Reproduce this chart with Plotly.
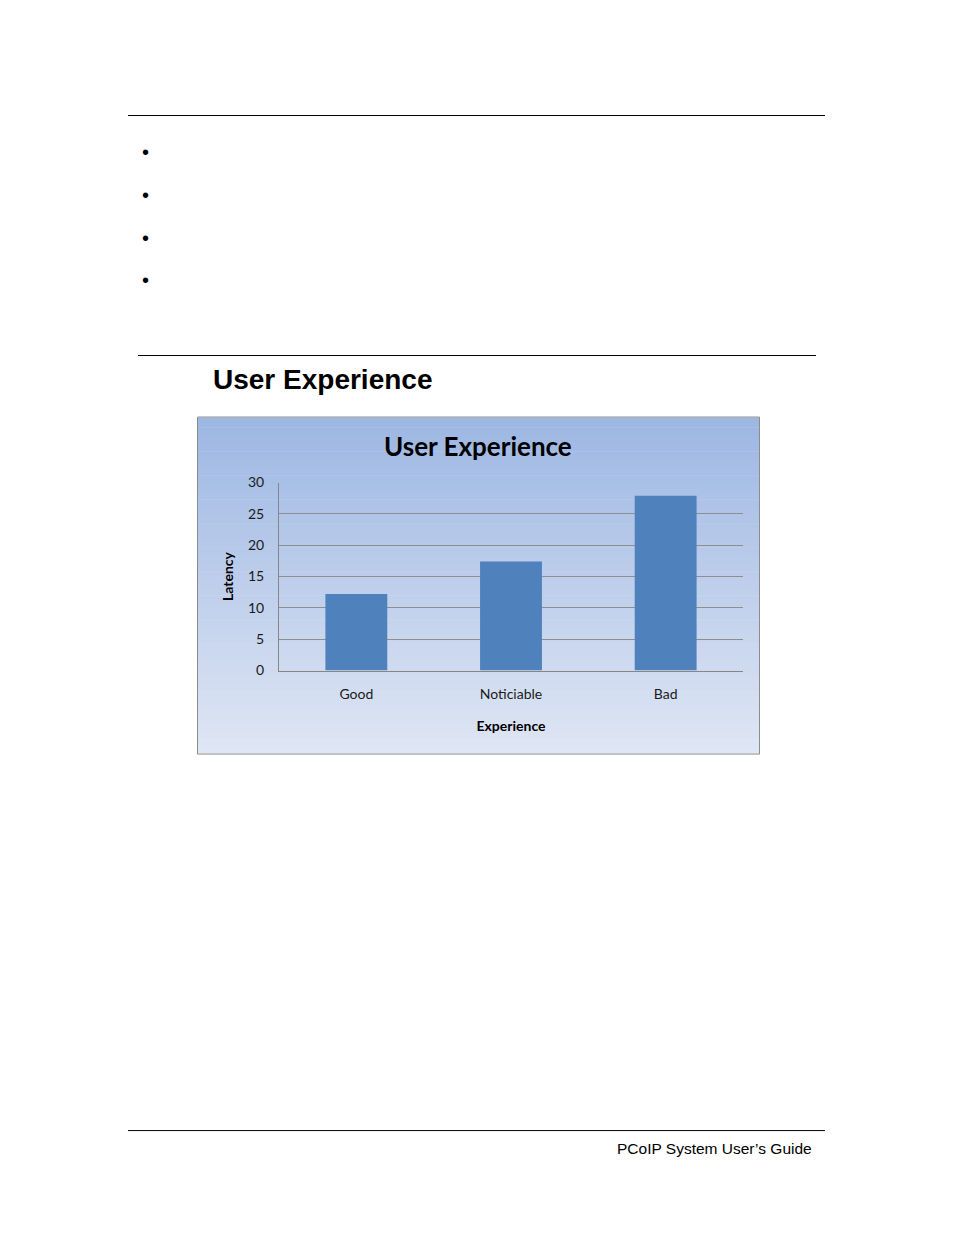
import plotly.graph_objects as go

# the page body adds an 8px margin, so the figure is made smaller by that amount
W, H = 938, 1219
OX, OY = 8, 8
SY, BY = 0.986, 8.6  # vertical mapping of the captured page

categories = ["Good", "Noticiable", "Bad"]
latency = [12.2, 17.4, 27.9]
y_ticks = [0, 5, 10, 15, 20, 25, 30]


def fx(x):
    return (x - OX) / W


def fy(y):
    return 1 - ((y - BY) / SY - OY) / H


fig = go.Figure()
fig.add_trace(go.Bar(x=categories, y=latency, marker=dict(color="#4F81BD", line=dict(width=0)),
                     showlegend=False))

shapes = []

# page rules
for x0, x1, y in [(128, 825, 115), (138, 816, 355), (128, 825, 1130)]:
    shapes.append(dict(type="line", xref="paper", yref="paper", x0=fx(x0), x1=fx(x1),
                       y0=fy(y), y1=fy(y), line=dict(color="black", width=1)))

# chart area gradient (top blue to pale bottom), drawn as thin strips
top, bot = (157, 183, 227), (223, 230, 244)
cx0, cx1, cy0, cy1 = 198, 759, 417, 753
n = 70
for i in range(n):
    t = i / (n - 1)
    c = tuple(round(a + (b - a) * t) for a, b in zip(top, bot))
    ya = cy0 + (cy1 - cy0) * i / n
    yb = cy0 + (cy1 - cy0) * (i + 1) / n + 0.6
    shapes.append(dict(type="rect", xref="paper", yref="paper", layer="below",
                       x0=fx(cx0), x1=fx(cx1), y0=fy(ya), y1=fy(min(yb, cy1)),
                       line=dict(width=0), fillcolor="rgb(%d,%d,%d)" % c))
shapes.append(dict(type="rect", xref="paper", yref="paper", layer="below",
                   x0=fx(197.5), x1=fx(759.5), y0=fy(416.5), y1=fy(753.5),
                   line=dict(color="#8C8C8C", width=1), fillcolor="rgba(0,0,0,0)"))

annotations = []
for y in [151, 194, 237, 279]:
    annotations.append(dict(text="•", x=fx(145), y=fy(y), xref="paper", yref="paper",
                            xanchor="center", yanchor="middle", showarrow=False,
                            font=dict(family="Liberation Sans", size=20, color="black")))
annotations.append(dict(text="<b>User Experience</b>", x=fx(211), y=fy(379), xref="paper", yref="paper",
                        xanchor="left", yanchor="middle", showarrow=False,
                        font=dict(family="Liberation Sans", size=28, color="black")))
annotations.append(dict(text="<b>User Experience</b>", x=fx(478), y=fy(445), xref="paper", yref="paper",
                        xanchor="center", yanchor="middle", showarrow=False,
                        font=dict(family="Lato", size=26, color="black")))
annotations.append(dict(text="PCoIP System User’s Guide", x=fx(814), y=fy(1148), xref="paper", yref="paper",
                        xanchor="right", yanchor="middle", showarrow=False,
                        font=dict(family="Liberation Sans", size=15.5, color="black")))

fig.update_layout(
    width=W, height=H, autosize=False,
    margin=dict(l=0, r=0, t=0, b=0),
    paper_bgcolor="white", plot_bgcolor="white",
    shapes=shapes, annotations=annotations,
    bargap=0.6,
    font=dict(family="Lato", size=14, color="#1a1a1a"),
    xaxis=dict(domain=[fx(279), fx(743)], showgrid=False, showline=True, linecolor="#868686",
               linewidth=1, ticks="", ticklabelstandoff=11,
               title=dict(text="<b>Experience</b>", standoff=19, font=dict(size=14, color="black"))),
    yaxis=dict(domain=[fy(670), fy(482)], range=[0, 30], tickvals=y_ticks, showgrid=True,
               gridcolor="#8E8E8E", gridwidth=1, showline=True, linecolor="#868686",
               linewidth=1, ticks="", ticklabelstandoff=11, zeroline=False,
               title=dict(text="<b>Latency</b>", standoff=11, font=dict(size=14, color="black"))),
)

fig.write_html("out.html")
